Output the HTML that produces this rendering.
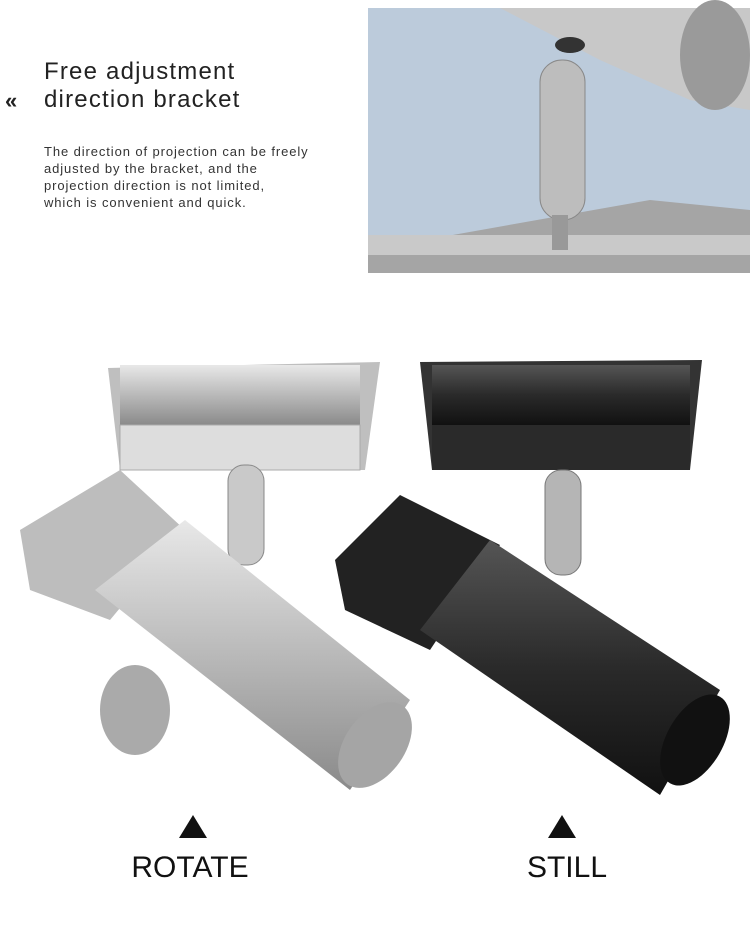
<!DOCTYPE html>
<html><head><style>
html,body{margin:0;padding:0;background:#fff;}
body{width:750px;height:928px;position:relative;overflow:hidden;font-family:"Liberation Sans","DejaVu Sans",sans-serif;}
.t{position:absolute;color:#222;}
</style></head><body>
<div class="t" style="left:5px;top:88px;font-size:22px;font-weight:bold;">«</div>
<div class="t" style="left:44px;top:58px;font-size:24px;line-height:28px;letter-spacing:1.2px;color:#222;">Free adjustment<br>direction bracket</div>
<div class="t" style="left:44px;top:143px;font-size:13px;line-height:17px;letter-spacing:0.9px;color:#333;">The direction of projection can be freely<br>adjusted by the bracket, and the<br>projection direction is not limited,<br>which is convenient and quick.</div>

<svg style="position:absolute;left:0;top:0" width="750" height="928">
<defs>
<linearGradient id="sil" x1="0" y1="0" x2="0" y2="1"><stop offset="0" stop-color="#e8e8e8"/><stop offset="0.5" stop-color="#b9b9b9"/><stop offset="1" stop-color="#8a8a8a"/></linearGradient>
<linearGradient id="blk" x1="0" y1="0" x2="0" y2="1"><stop offset="0" stop-color="#555"/><stop offset="0.5" stop-color="#2a2a2a"/><stop offset="1" stop-color="#111"/></linearGradient>
</defs>
<rect x="368" y="8" width="382" height="265" fill="#bccbdb"/>
<polygon points="500,8 750,8 750,110 690,100 600,60" fill="#c8c8c8"/>
<ellipse cx="715" cy="55" rx="35" ry="55" fill="#9a9a9a"/>
<polygon points="368,250 650,200 750,210 750,273 368,273" fill="#a5a5a5"/>
<rect x="368" y="235" width="382" height="20" fill="#c9c9c9"/>
<rect x="540" y="60" width="45" height="160" rx="22" fill="#bdbdbd" stroke="#888"/>
<ellipse cx="570" cy="45" rx="15" ry="8" fill="#333"/>
<rect x="552" y="215" width="16" height="35" fill="#999"/>
<polygon points="108,368 380,362 365,470 120,470" fill="#bfbfbf"/>
<rect x="120" y="365" width="240" height="60" fill="url(#sil)"/>
<rect x="120" y="425" width="240" height="45" fill="#ddd" stroke="#aaa"/>
<rect x="228" y="465" width="36" height="100" rx="16" fill="#c9c9c9" stroke="#888"/>
<polygon points="20,530 120,470 185,530 110,620 30,590" fill="#bdbdbd"/>
<polygon points="95,590 185,520 410,700 350,790" fill="url(#sil)"/>
<ellipse cx="375" cy="745" rx="30" ry="48" fill="#a5a5a5" transform="rotate(35 375 745)"/>
<ellipse cx="135" cy="710" rx="35" ry="45" fill="#aaa"/>
<polygon points="420,362 702,360 690,470 432,470" fill="#333"/>
<rect x="432" y="365" width="258" height="60" fill="url(#blk)"/>
<rect x="432" y="425" width="258" height="45" fill="#2a2a2a"/>
<rect x="545" y="470" width="36" height="105" rx="16" fill="#b5b5b5" stroke="#777"/>
<polygon points="335,560 400,495 500,545 430,650 345,610" fill="#222"/>
<polygon points="420,630 490,540 720,690 660,795" fill="url(#blk)"/>
<ellipse cx="695" cy="740" rx="28" ry="50" fill="#111" transform="rotate(30 695 740)"/>
<polygon points="193,815 179,838 207,838" fill="#111"/>
<polygon points="562,815 548,838 576,838" fill="#111"/>
</svg>
<div class="t" style="left:90px;top:851px;width:200px;text-align:center;font-size:30px;color:#111;">ROTATE</div>
<div class="t" style="left:467px;top:851px;width:200px;text-align:center;font-size:30px;color:#111;">STILL</div>
</body></html>
